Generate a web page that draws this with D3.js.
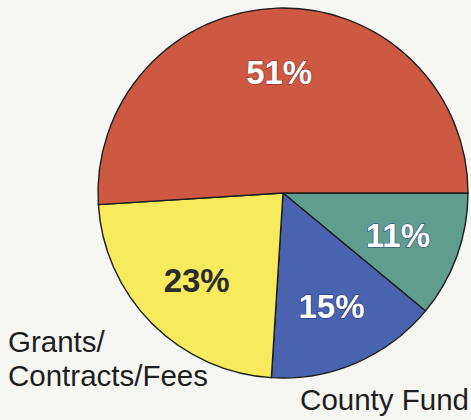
<!DOCTYPE html>
<html>
<head>
<meta charset="utf-8">
<script src="https://cdn.jsdelivr.net/npm/d3@7"></script>
<style>
  html, body { margin: 0; padding: 0; background: #f6f6f3; }
  svg { display: block; }
</style>
</head>
<body>
<script>
// Data (order: clockwise starting at 3 o'clock)
const categories = ["Other", "County Fund", "Grants/Contracts/Fees", "State"];
const values = [11, 15, 23, 51];
const percentLabels = ["11%", "15%", "23%", "51%"];
const colors = ["#5f9d8e", "#4a63ae", "#f7eb5d", "#cd5943"];
const labelFill = ["#ffffff", "#ffffff", "#2b2b2b", "#ffffff"];
const labelStroke = ["#2b4a7a", "#1f2f7a", "none", "#8a2f22"];
const outerLabelLines = { "Grants/Contracts/Fees": ["Grants/", "Contracts/Fees"], "County Fund": ["County Fund"] };

const W = 471, H = 420;
const cx = 283, cy = 193, R = 185;

const svg = d3.select("body").append("svg").attr("width", W).attr("height", H);
svg.append("rect").attr("width", W).attr("height", H).attr("fill", "#f6f6f3");

const pie = d3.pie().sort(null).value(d => d)
  .startAngle(Math.PI / 2).endAngle(Math.PI / 2 + 2 * Math.PI);
const arcs = pie(values);
const arc = d3.arc().innerRadius(0).outerRadius(R);
const labelArc = d3.arc().innerRadius(0).outerRadius(R * 0.66 * 2); // centroid at 0.66R

const g = svg.append("g").attr("transform", `translate(${cx},${cy})`);

g.selectAll("path.slice").data(arcs).join("path")
  .attr("class", "slice")
  .attr("d", arc)
  .attr("fill", (d, i) => colors[i])
  .attr("stroke", "#1d1d1d")
  .attr("stroke-width", 1.4)
  .attr("stroke-linejoin", "round");

g.selectAll("text.pct").data(arcs).join("text")
  .attr("class", "pct")
  .attr("transform", d => { const c = labelArc.centroid(d); return `translate(${c[0]},${c[1]})`; })
  .attr("text-anchor", "middle")
  .attr("dy", "0.38em")
  .attr("font-family", "'Liberation Sans', Arial, Helvetica, sans-serif")
  .attr("font-weight", "bold")
  .attr("font-size", 33)
  .attr("fill", (d, i) => labelFill[i])
  .attr("stroke", (d, i) => labelStroke[i])
  .attr("stroke-width", 1.2)
  .attr("paint-order", "stroke")
  .text((d, i) => percentLabels[i]);

// Outer category labels (only those visible in the crop)
const font = "'Liberation Sans', Arial, Helvetica, sans-serif";
const grantsIdx = categories.indexOf("Grants/Contracts/Fees");
const grantsText = svg.append("text")
  .attr("font-family", font).attr("font-size", 29.5).attr("fill", "#1e1e1e")
  .attr("x", 8).attr("y", cy + R * 0.85 + 2);
grantsText.selectAll("tspan").data(outerLabelLines[categories[grantsIdx]]).join("tspan")
  .attr("x", 8).attr("dy", (d, i) => i === 0 ? 0 : 34).text(d => d);

const countyIdx = categories.indexOf("County Fund");
svg.append("text")
  .attr("font-family", font).attr("font-size", 29.5).attr("fill", "#1e1e1e")
  .attr("text-anchor", "end")
  .attr("x", W - 2).attr("y", cy + R + 32)
  .text(outerLabelLines[categories[countyIdx]][0]);
</script>
</body>
</html>
